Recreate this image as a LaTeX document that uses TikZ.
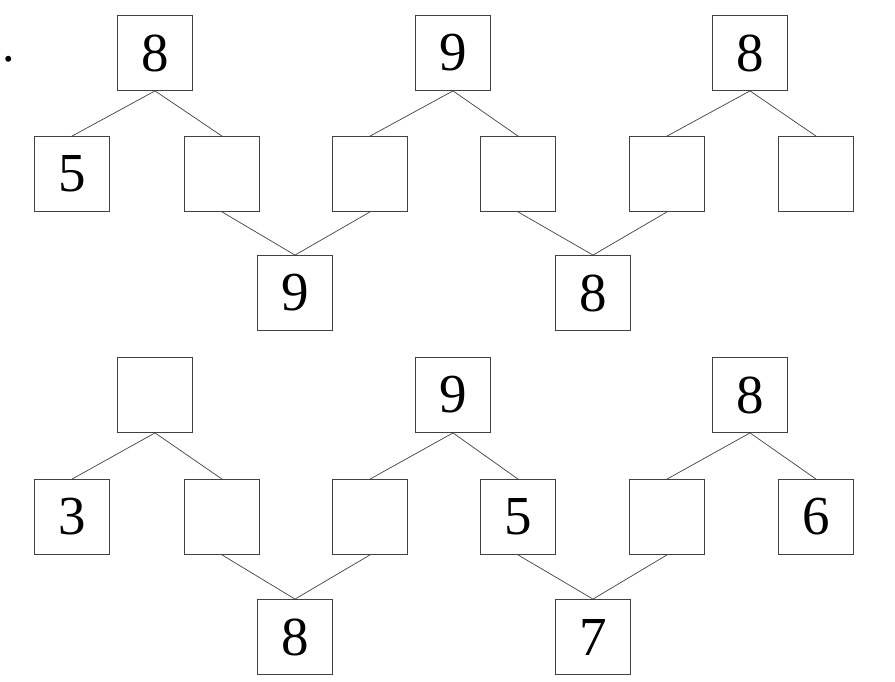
\documentclass[tikz,border=0pt]{standalone}
\usepackage{fontspec}
\setmainfont{Liberation Serif}
\usetikzlibrary{positioning}

\begin{document}
\begin{tikzpicture}[x=1pt, y=-1pt,
  num/.style={draw=black!75, line width=0.8pt, minimum size=75pt, inner sep=0pt, font=\fontsize{55}{55}\selectfont},
  link/.style={draw=black!75, line width=0.7pt}]
  \useasboundingbox (0,0) rectangle (895,682);
  \node[anchor=base, font=\fontsize{50}{50}\selectfont] (dot) at (9,62) {.};
  % first group
  \node[num] (at1) at (155,53) {8};
  \node[num] (at2) at (453,53) {9};
  \node[num] (at3) at (750,53) {8};
  \node[num] (am1) at (72,174) {5};
  \node[num] (am2) at (222,174) {};
  \node[num] (am3) at (370,174) {};
  \node[num] (am4) at (518,174) {};
  \node[num] (am5) at (667,174) {};
  \node[num] (am6) at (816,174) {};
  \node[num] (ab1) at (295,293) {9};
  \node[num] (ab2) at (593,293) {8};
  % second group
  \node[num] (bt1) at (155,395) {};
  \node[num] (bt2) at (453,395) {9};
  \node[num] (bt3) at (750,395) {8};
  \node[num] (bm1) at (72,517) {3};
  \node[num] (bm2) at (222,517) {};
  \node[num] (bm3) at (370,517) {};
  \node[num] (bm4) at (518,517) {5};
  \node[num] (bm5) at (667,517) {};
  \node[num] (bm6) at (816,517) {6};
  \node[num] (bb1) at (295,637) {8};
  \node[num] (bb2) at (593,637) {7};
  \foreach \g in {a,b} {
    \foreach \p/\c in {t1/m1, t1/m2, t2/m3, t2/m4, t3/m5, t3/m6}
      {\draw[link] (\g\p.south) -- (\g\c.north);}
    \foreach \c/\p in {m2/b1, m3/b1, m4/b2, m5/b2}
      {\draw[link] (\g\c.south) -- (\g\p.north);}
  }
\end{tikzpicture}
\end{document}
